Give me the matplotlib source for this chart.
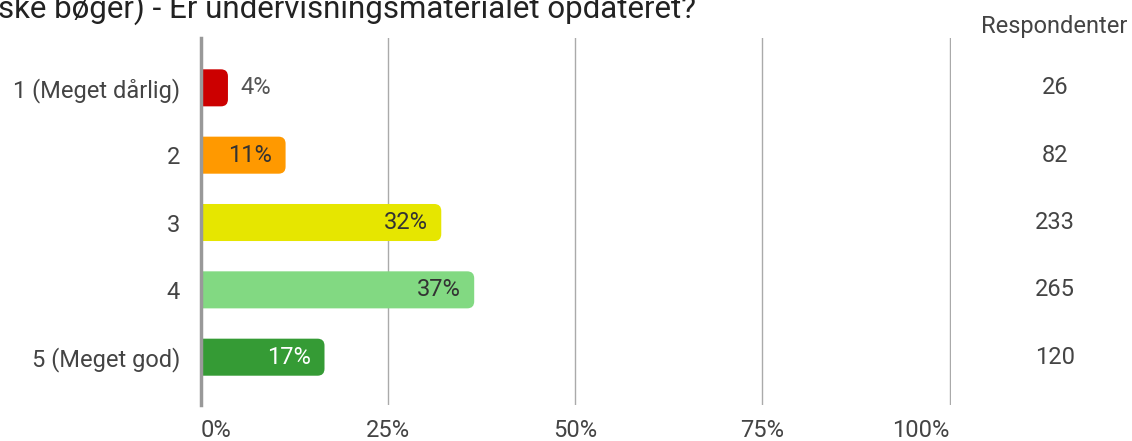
import matplotlib
matplotlib.use("Agg")
import matplotlib.pyplot as plt
from matplotlib.patches import FancyBboxPatch

plt.rcParams['font.family'] = ['Roboto', 'DejaVu Sans']

# Data
kategorier = ['1 (Meget dårlig)', '2', '3', '4', '5 (Meget god)']
procent = [3.6, 11.3, 32.1, 36.5, 16.5]
respondenter = [26, 82, 233, 265, 120]
etiketter = ['4%', '11%', '32%', '37%', '17%']
farver = ['#cc0000', '#ff9900', '#e6e600', '#82d982', '#359b35']
tekstfarver = ['#555555', '#333333', '#333333', '#333333', '#ffffff']
inde = [False, True, True, True, True]
titel = 'ske bøger) - Er undervisningsmaterialet opdateret?'

W, H = 1132, 441
fig = plt.figure(figsize=(W / 100, H / 100), dpi=100)
ax_left, ax_right, ax_top, ax_bot = 201, 951, 38, 405
ax = fig.add_axes([ax_left / W, 1 - ax_bot / H, (ax_right - ax_left) / W, (ax_bot - ax_top) / H])

ylo, yhi = -0.74, 4.71
ax.set_xlim(0, 100.2)
ax.set_ylim(yhi, ylo)

bar_h = 0.55
px_x = 100.2 / (ax_right - ax_left)        # data units per pixel, x
px_y = (yhi - ylo) / (ax_bot - ax_top)     # data units per pixel, y
r = 7 * px_x
fs = 17

pos = list(range(len(kategorier)))
for i, (p, c) in enumerate(zip(procent, farver)):
    patch = FancyBboxPatch((-5, i - bar_h / 2), p + 5, bar_h,
                           boxstyle=f"round,pad=0,rounding_size={r}",
                           mutation_aspect=px_y / px_x,
                           facecolor=c, edgecolor='none', zorder=3)
    ax.add_patch(patch)
    if inde[i]:
        ax.annotate(etiketter[i], (p, i), xytext=(-10, 0), textcoords='offset points',
                    ha='right', va='center', fontsize=fs, color=tekstfarver[i], zorder=4)
    else:
        ax.annotate(etiketter[i], (p, i), xytext=(9, 0), textcoords='offset points',
                    ha='left', va='center', fontsize=fs, color=tekstfarver[i], zorder=4)

# counts column
tr = ax.get_yaxis_transform()
for i, n in enumerate(respondenter):
    ax.text((1055 - ax_left) / (ax_right - ax_left), i, str(n), transform=tr,
            ha='center', va='center', fontsize=fs, color='#444444', clip_on=False)
ax.text((1127 - ax_left) / (ax_right - ax_left), ylo - 12 * px_y, 'Respondenter', transform=tr,
        ha='right', va='center', fontsize=fs, color='#444444', clip_on=False)

ax.set_yticks(pos)
ax.set_yticklabels(kategorier, fontsize=fs, color='#444444')
ax.set_xticks([0, 25, 50, 75, 100])
ax.set_xticklabels(['0%', '25%', '50%', '75%', '100%'], fontsize=fs, color='#444444')
xl = ax.get_xticklabels()
xl[0].set_horizontalalignment('left')
xl[-1].set_horizontalalignment('right')
ax.tick_params(axis='both', length=0)
ax.tick_params(axis='y', pad=15)
ax.tick_params(axis='x', pad=10)

ax.grid(axis='x', color='#aaaaaa', linewidth=1, zorder=0)
ax.set_axisbelow(True)
for s in ['top', 'right', 'bottom']:
    ax.spines[s].set_visible(False)
ax.spines['left'].set_color('#999999')
ax.spines['left'].set_linewidth(2.5)
ax.spines['left'].set_zorder(5)

fig.text(-2 / W, 1 - 18 / H, titel, fontsize=22.5, color='#222222', va='baseline', ha='left')

fig.savefig('out.png', dpi=100)
